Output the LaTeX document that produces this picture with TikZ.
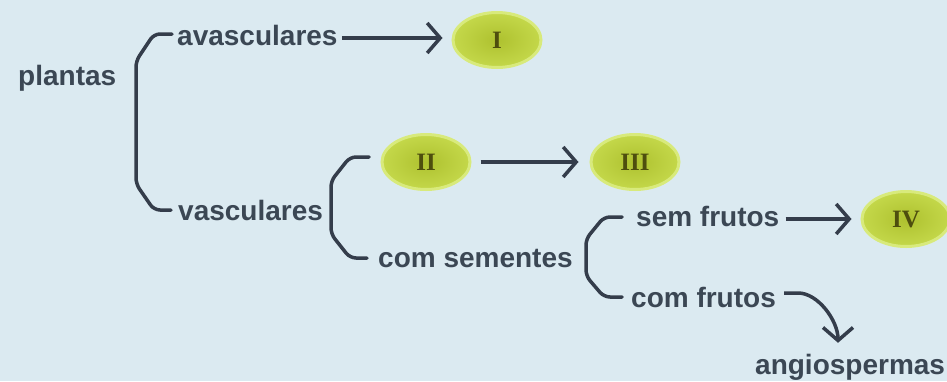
\documentclass[tikz,border=0pt]{standalone}
\usepackage{fontspec}
\setmainfont{Liberation Sans}
\newfontfamily\numfont{Liberation Serif}
\usetikzlibrary{arrows.meta,calc,shapes.geometric}
\definecolor{bgcol}{HTML}{DBEAF1}
\definecolor{inkcol}{HTML}{343D4B}
\definecolor{txtcol}{HTML}{3B4754}
\definecolor{leafin}{HTML}{AEC12F}
\definecolor{leafout}{HTML}{C4D84A}
\definecolor{leafglow}{HTML}{D8EA7C}
\definecolor{numcol}{HTML}{4E4E0E}
\tikzset{
  lbl/.style={font=\fontsize{28}{30}\selectfont\bfseries, text=txtcol, inner sep=0pt,
              text height=14pt, text depth=0pt, anchor=base west},
  leaf/.style={ellipse, inner sep=0pt, minimum width=88pt, minimum height=55pt,
               draw=leafglow, line width=3pt, inner color=leafin, outer color=leafout,
               font=\numfont\fontsize{25}{27}\selectfont\bfseries, text=numcol},
  brk/.style={draw=inkcol, line width=3.5pt, rounded corners=6pt, line cap=round},
  arr/.style={draw=inkcol, line width=3.5pt,
              -{Straight Barb[length=13pt,width=30pt,line width=3.5pt]}}
}
\begin{document}
\begin{tikzpicture}[x=1pt,y=-1pt]
  \fill[bgcol] (0,0) rectangle (947,381);
  \useasboundingbox (0,0) rectangle (947,381);

  % text nodes
  \node[lbl] (plantas) at (18,85) {plantas};
  \node[lbl] (avas) at (177,45) {avasculares};
  \node[lbl] (vasc) at (178,220) {vasculares};
  \node[lbl] (coms) at (378,267) {com sementes};
  \node[lbl] (semf) at (636,226) {sem frutos};
  \node[lbl] (comf) at (631,307) {com frutos};
  \node[lbl] (angio) at (755,374) {angiospermas};

  % leaf nodes
  \node[leaf] (I) at (497,40) {I};
  \node[leaf] (II) at (426,162) {II};
  \node[leaf] (III) at (635,162) {III};
  \node[leaf] (IV) at (906,219) {IV};

  % brackets
  \coordinate (b1t) at (172,34);
  \coordinate (b1b) at (171,210);
  \draw[brk] (b1t) -- (154,34) -- (136,61) -- (136,184) -- (154,210) -- (b1b);
  \coordinate (b2t) at (369,157);
  \coordinate (b2b) at (367,258);
  \draw[brk] (b2t) -- (350,157) -- (331,181) -- (331,234) -- (350,258) -- (b2b);
  \coordinate (b3t) at (622,217);
  \coordinate (b3b) at (622,297);
  \draw[brk] (b3t) -- (604,217) -- (586,239) -- (586,276) -- (604,297) -- (b3b);

  % arrows
  \draw[arr, shorten <=4pt, shorten >=9pt] (avas.east) -- (avas.east -| I.west);
  \draw[arr, shorten <=9pt, shorten >=11pt] (II.east) -- (III.west);
  \draw[arr, shorten <=6pt, shorten >=9pt] (semf.east) -- (semf.east -| IV.west);
  \draw[arr] ($(comf.east)+(8,-7)$) -- ++(14,0)
      .. controls +(20,0) and +(0,-22) .. ($(angio.north west)+(83,-17)$);
\end{tikzpicture}
\end{document}
